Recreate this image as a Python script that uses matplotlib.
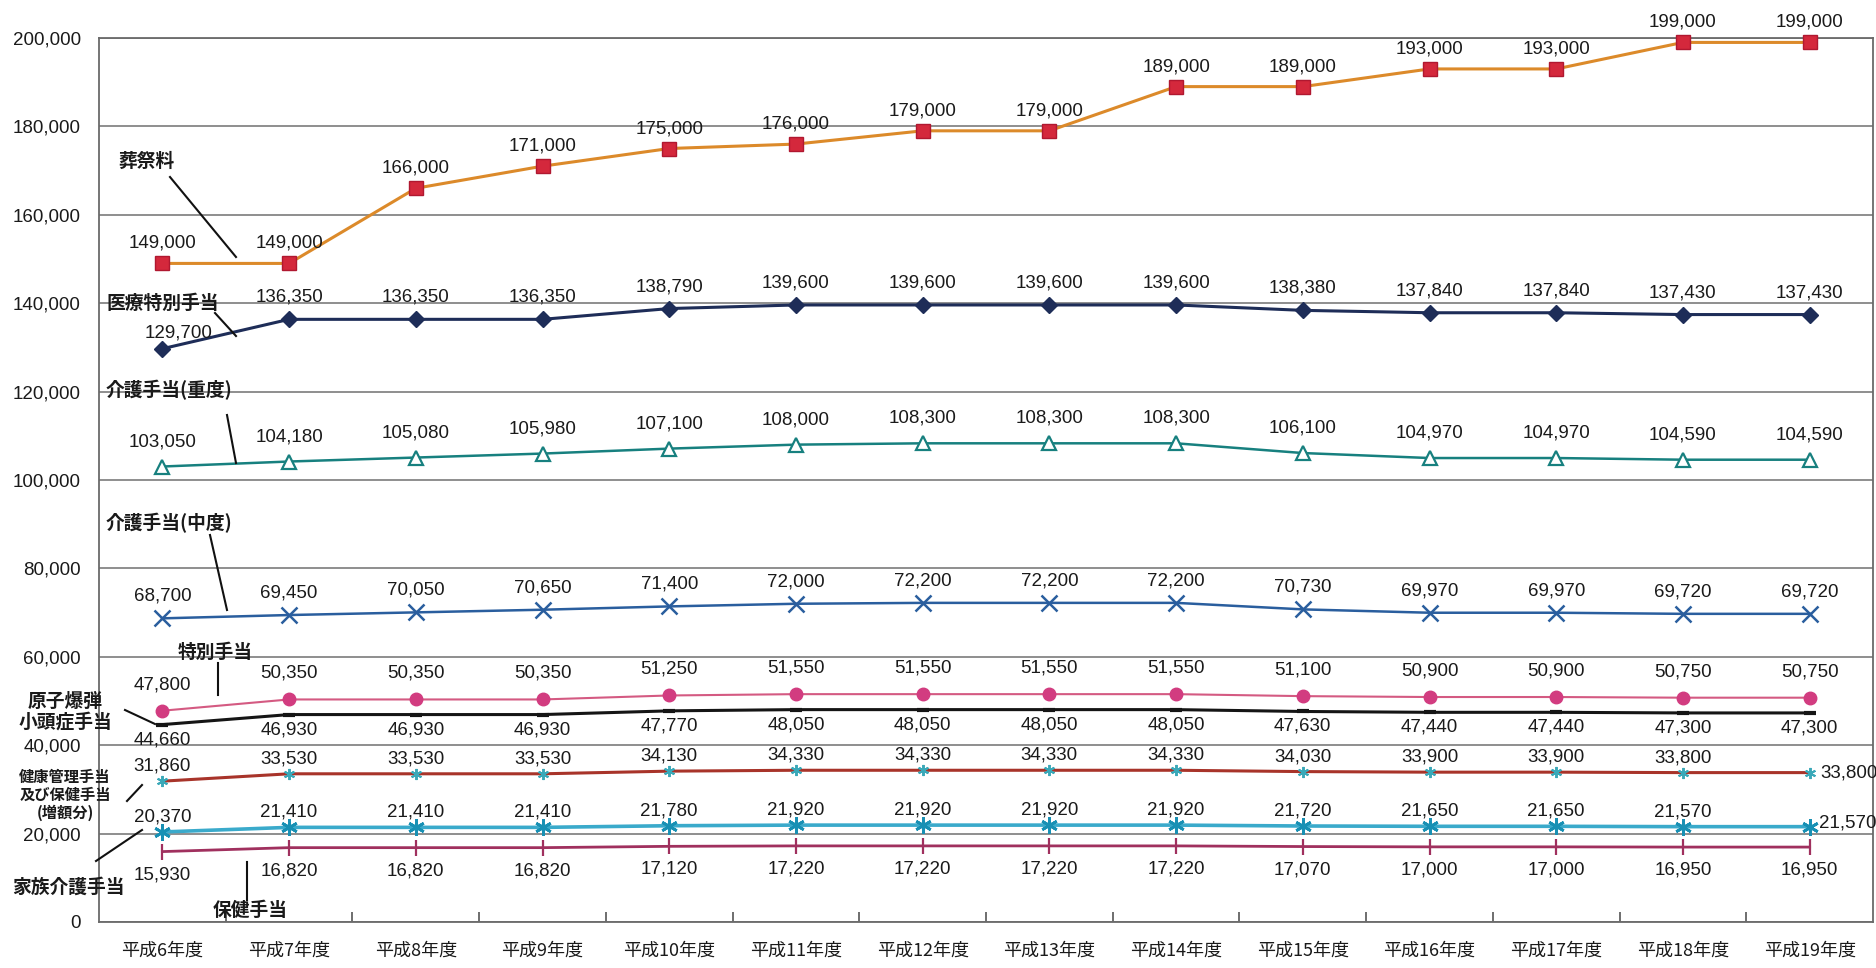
import matplotlib
matplotlib.use("Agg")
import matplotlib.pyplot as plt
from matplotlib.lines import Line2D
from matplotlib.ticker import FuncFormatter, FixedLocator

# ---------------- data ----------------
years = ["平成6年度", "平成7年度", "平成8年度", "平成9年度", "平成10年度", "平成11年度",
         "平成12年度", "平成13年度", "平成14年度", "平成15年度", "平成16年度",
         "平成17年度", "平成18年度", "平成19年度"]

sosairyo = [149000, 149000, 166000, 171000, 175000, 176000, 179000, 179000,
            189000, 189000, 193000, 193000, 199000, 199000]
iryo_tokubetsu = [129700, 136350, 136350, 136350, 138790, 139600, 139600, 139600,
                  139600, 138380, 137840, 137840, 137430, 137430]
kaigo_judo = [103050, 104180, 105080, 105980, 107100, 108000, 108300, 108300,
              108300, 106100, 104970, 104970, 104590, 104590]
kaigo_chudo = [68700, 69450, 70050, 70650, 71400, 72000, 72200, 72200,
               72200, 70730, 69970, 69970, 69720, 69720]
tokubetsu = [47800, 50350, 50350, 50350, 51250, 51550, 51550, 51550,
             51550, 51100, 50900, 50900, 50750, 50750]
shotosho = [44660, 46930, 46930, 46930, 47770, 48050, 48050, 48050,
            48050, 47630, 47440, 47440, 47300, 47300]
kenko_kanri = [31860, 33530, 33530, 33530, 34130, 34330, 34330, 34330,
               34330, 34030, 33900, 33900, 33800, 33800]
kazoku_kaigo = [20370, 21410, 21410, 21410, 21780, 21920, 21920, 21920,
                21920, 21720, 21650, 21650, 21570, 21570]
hoken = [15930, 16820, 16820, 16820, 17120, 17220, 17220, 17220,
         17220, 17070, 17000, 17000, 16950, 16950]

yticks = [0, 20000, 40000, 60000, 80000, 100000, 120000, 140000, 160000, 180000, 200000]

# ---------------- styling ----------------
W, H = 1876, 968
NUM_FONT = ["Liberation Sans Narrow", "Liberation Sans", "DejaVu Sans"]
CJK_FONT = ["Noto Sans CJK JP", "DejaVu Sans"]
plt.rcParams["font.family"] = NUM_FONT

fig = plt.figure(figsize=(W / 100, H / 100), dpi=100)
fig.patch.set_facecolor("white")
ax = fig.add_axes([99 / W, 1 - 922 / H, (1873 - 99) / W, (922 - 38) / H])

x = list(range(len(years)))

# (values, line color, line width, marker, marker size, marker face, marker edge, mew,
#  label offset px (dx, dy))
series = [
    (sosairyo, "#DC8A2A", 2.2, "s", 9.5, "#D4283C", "#B01830", 1.0, (0, 20)),
    (iryo_tokubetsu, "#1E2D58", 2.2, "D", 8, "#1E2D58", "#1E2D58", 1.0, (0, 22)),
    (kaigo_judo, "#17807F", 1.8, "^", 10, "white", "#17807F", 1.6, (0, 25)),
    (kaigo_chudo, "#2A5E9E", 1.8, "x", 11, "#2A5E9E", "#2A5E9E", 1.8, (0, 22)),
    (tokubetsu, "#D45A82", 1.5, "o", 9, "#D23C80", "#D23C80", 1.0, (0, 26)),
    (shotosho, "#151515", 2.2, "_", 9, "#151515", "#151515", 3.0, (0, -15)),
    (kenko_kanri, "#A8342A", 2.2, (6, 2, 0), 8, "#3AA8B8", "#3AA8B8", 1.4, (0, 15)),
    (kazoku_kaigo, "#3AAACB", 2.6, (6, 2, 0), 12, "#1890B4", "#1890B4", 2.0, (0, 15)),
    (hoken, "#A0305E", 2.0, "|", 12, "#A0305E", "#A0305E", 1.6, (0, -23)),
]

for vals, lc, lw, mk, ms, mfc, mec, mew, (dx, dy) in series:
    ax.plot(x, vals, color=lc, lw=lw, marker=mk, ms=ms, mfc=mfc, mec=mec,
            mew=mew, zorder=3, clip_on=False)
    for i, v in enumerate(vals):
        ox, oy, ha = dx, dy, "center"
        if i == len(vals) - 1 and vals is kenko_kanri:
            ox, oy, ha = 11, 0, "left"
        if i == len(vals) - 1 and vals is kazoku_kaigo:
            ox, oy, ha = 9, 4, "left"
        if i == 0 and vals is iryo_tokubetsu:
            ox, oy = 16, 16
        ax.annotate(f"{v:,}", (i, v), xytext=(ox, oy), textcoords="offset pixels",
                    ha=ha, va="center", fontsize=13.5, color="#1a1a1a",
                    family=NUM_FONT, zorder=5)

# axes setup
ax.set_xlim(-0.5, len(years) - 0.5)
ax.set_ylim(0, 200000)
ax.yaxis.set_major_locator(FixedLocator(yticks))
ax.yaxis.set_major_formatter(FuncFormatter(lambda v, p: f"{int(v):,}"))
ax.grid(axis="y", color="#7c7c7c", lw=1.2)
ax.set_axisbelow(True)
ax.tick_params(axis="y", length=0, pad=13, labelsize=13.5, labelcolor="#1a1a1a")

ax.set_xticks(x)
ax.set_xticklabels(years, family=CJK_FONT, fontsize=13, color="#1a1a1a")
ax.set_xticks([k + 0.5 for k in range(len(years) - 1)], minor=True)
ax.tick_params(axis="x", which="major", length=0, pad=14)
ax.tick_params(axis="x", which="minor", direction="in", length=7, width=1.2, color="#555555")

for s in ["left", "bottom", "right", "top"]:
    ax.spines[s].set_color("#6a6a6a")
    ax.spines[s].set_linewidth(1.3)

# ---------------- annotation labels with leader lines (pixel coords) ----------------
def fx(px):
    return px / W

def fy(py):
    return 1 - py / H

def label(px, py, text, ha="left", size=13.5, lsp=1.2):
    fig.text(fx(px), fy(py), text, ha=ha, va="center", fontsize=size,
             fontweight="bold", family=CJK_FONT, color="#1a1a1a",
             linespacing=lsp, zorder=6)

def leader(x0, y0, x1, y1):
    fig.add_artist(Line2D([fx(x0), fx(x1)], [fy(y0), fy(y1)], color="#111111",
                          lw=1.5, transform=fig.transFigure, zorder=6))

label(118, 161, "葬祭料")
leader(170, 177, 236, 257)

label(106, 303, "医療特別手当")
leader(215, 313, 236, 336)

label(106, 390, "介護手当(重度)")
leader(227, 415, 236, 463)

label(106, 523, "介護手当(中度)")
leader(210, 535, 227, 610)

label(178, 652, "特別手当")
leader(218, 663, 218, 695)

label(65, 712, "原子爆弾\n小頭症手当", ha="center", lsp=1.1)
leader(125, 710, 155, 724)

label(65, 795, "健康管理手当\n及び保健手当\n(増額分)", ha="center", size=11, lsp=1.12)
leader(127, 801, 142, 785)

label(12, 887, "家族介護手当")
leader(96, 861, 142, 830)

label(213, 910, "保健手当")
leader(247, 862, 247, 900)

fig.savefig("out.png", dpi=100, facecolor="white")
